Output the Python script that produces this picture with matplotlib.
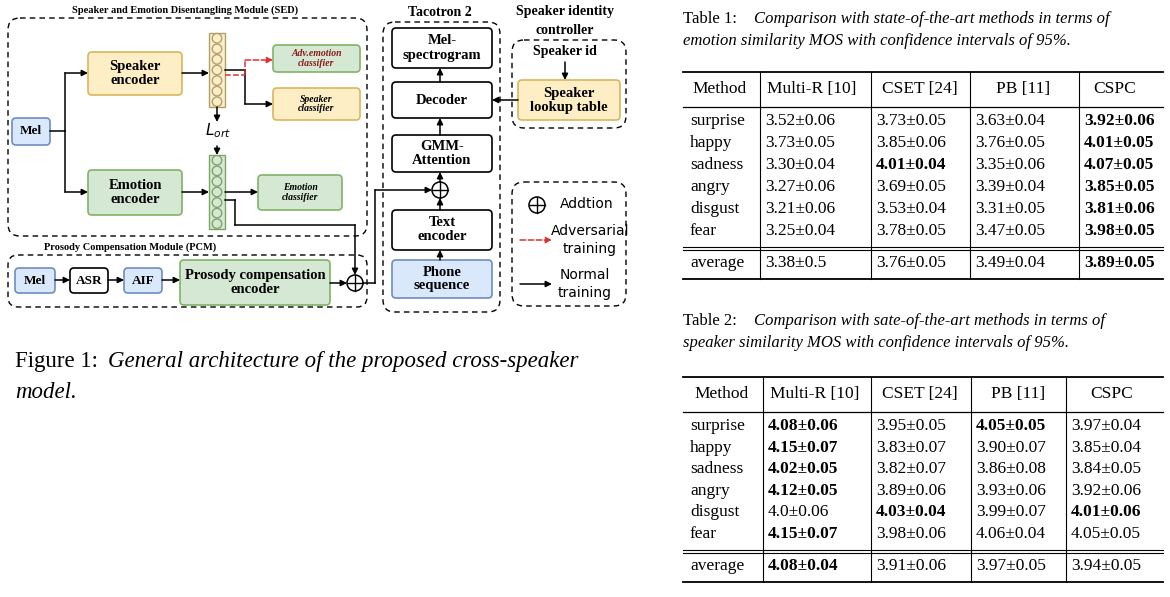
import matplotlib.pyplot as plt
from matplotlib.patches import FancyBboxPatch, Rectangle, Circle

# table data
methods = ["surprise", "happy", "sadness", "angry", "disgust", "fear"]
headers = ["Method", "Multi-R [10]", "CSET [24]", "PB [11]", "CSPC"]

t1_values = [
    ["3.52±0.06", "3.73±0.05", "3.63±0.04", "3.92±0.06"],
    ["3.73±0.05", "3.85±0.06", "3.76±0.05", "4.01±0.05"],
    ["3.30±0.04", "4.01±0.04", "3.35±0.06", "4.07±0.05"],
    ["3.27±0.06", "3.69±0.05", "3.39±0.04", "3.85±0.05"],
    ["3.21±0.06", "3.53±0.04", "3.31±0.05", "3.81±0.06"],
    ["3.25±0.04", "3.78±0.05", "3.47±0.05", "3.98±0.05"],
]
t1_avg = ["3.38±0.5", "3.76±0.05", "3.49±0.04", "3.89±0.05"]
t1_bold = {(0, 3), (1, 3), (2, 1), (2, 3), (3, 3), (4, 3), (5, 3), (6, 3)}

t2_values = [
    ["4.08±0.06", "3.95±0.05", "4.05±0.05", "3.97±0.04"],
    ["4.15±0.07", "3.83±0.07", "3.90±0.07", "3.85±0.04"],
    ["4.02±0.05", "3.82±0.07", "3.86±0.08", "3.84±0.05"],
    ["4.12±0.05", "3.89±0.06", "3.93±0.06", "3.92±0.06"],
    ["4.0±0.06", "4.03±0.04", "3.99±0.07", "4.01±0.06"],
    ["4.15±0.07", "3.98±0.06", "4.06±0.04", "4.05±0.05"],
]
t2_avg = ["4.08±0.04", "3.91±0.06", "3.97±0.05", "3.94±0.05"]
t2_bold = {(0, 0), (0, 2), (1, 0), (2, 0), (3, 0), (4, 1), (4, 3), (5, 0), (6, 0)}

SERIF = "Liberation Serif"
fig = plt.figure(figsize=(11.7, 5.97), dpi=100)
ax = fig.add_axes([0, 0, 1, 1])
ax.set_xlim(0, 1170)
ax.set_ylim(597, 0)
ax.axis("off")

YEL, YEL_E = "#fdeec6", "#d9b65a"
GRN, GRN_E = "#d5e8d4", "#82b366"
BLU, BLU_E = "#dae8fc", "#6c8ebf"


def box(x0, y0, x1, y1, text, fc="white", ec="black", size=9.5, style="normal", color="black", r=4):
    ax.add_patch(FancyBboxPatch((x0, y0), x1 - x0, y1 - y0, boxstyle=f"round,pad=0,rounding_size={r}",
                                fc=fc, ec=ec, lw=1.2))
    ax.text((x0 + x1) / 2, (y0 + y1) / 2, text, ha="center", va="center", fontsize=size,
            family=SERIF, weight="bold", style=style, color=color, linespacing=1.1)


def dashed(x0, y0, x1, y1, r=12):
    ax.add_patch(FancyBboxPatch((x0, y0), x1 - x0, y1 - y0, boxstyle=f"round,pad=0,rounding_size={r}",
                                fc="none", ec="black", lw=1.0, ls=(0, (4, 3))))


def arrow(pts, color="black", ls="-"):
    for i in range(len(pts) - 2):
        ax.plot([pts[i][0], pts[i + 1][0]], [pts[i][1], pts[i + 1][1]], color=color, lw=1.1, ls=ls)
    ax.annotate("", xy=pts[-1], xytext=pts[-2],
                arrowprops=dict(arrowstyle="-|>", color=color, lw=1.1, ls=ls, mutation_scale=9,
                                shrinkA=0, shrinkB=0))


def plus(x, y, r=8):
    ax.add_patch(Circle((x, y), r, fc="white", ec="black", lw=1.1))
    ax.plot([x - r, x + r], [y, y], color="black", lw=1)
    ax.plot([x, x], [y - r, y + r], color="black", lw=1)


def column(x, y0, y1, fc, ec):
    ax.add_patch(Rectangle((x - 8, y0), 16, y1 - y0, fc=fc, ec=ec, lw=1))
    n = 7
    step = (y1 - y0) / n
    for i in range(n):
        ax.add_patch(Circle((x, y0 + step * (i + 0.5)), step * 0.45, fc=fc, ec=ec, lw=1))


# SED module
ax.text(185, 10, "Speaker and Emotion Disentangling Module (SED)", ha="center", va="center",
        fontsize=7.5, family=SERIF, weight="bold")
dashed(8, 18, 367, 236)
box(12, 118, 50, 145, "Mel", BLU, BLU_E)
box(88, 52, 182, 95, "Speaker\nencoder", YEL, YEL_E, 10.5)
box(88, 170, 182, 215, "Emotion\nencoder", GRN, GRN_E, 10.5)
column(217, 33, 107, "#fdeec6", "#b0a070")
column(217, 155, 229, "#d5e8d4", "#82a366")
ax.text(218, 131, r"$\boldsymbol{L_{ort}}$", ha="center", va="center", fontsize=11)
box(273, 45, 360, 72, "Adv.emotion\nclassifier", GRN, GRN_E, 7, "italic", "#8b1a1a")
box(273, 88, 360, 120, "Speaker\nclassifier", YEL, YEL_E, 7, "italic")
box(258, 175, 342, 210, "Emotion\nclassifier", GRN, GRN_E, 7, "italic")
arrow([(50, 131), (65, 131), (65, 73), (88, 73)])
arrow([(65, 131), (65, 192), (88, 192)])
arrow([(182, 73), (209, 73)])
arrow([(182, 192), (209, 192)])
arrow([(225, 70), (245, 70), (245, 104), (273, 104)])
arrow([(225, 75), (245, 75), (245, 60), (273, 60)], color="#e03030", ls="--")
arrow([(225, 192), (258, 192)])
arrow([(217, 107), (217, 122)])
arrow([(217, 146), (217, 155)])
arrow([(225, 200), (235, 200), (235, 225), (355, 225), (355, 275)])

# PCM module
ax.text(130, 247, "Prosody Compensation Module (PCM)", ha="center", va="center",
        fontsize=7.5, family=SERIF, weight="bold")
dashed(8, 255, 367, 307, r=10)
box(15, 268, 55, 293, "Mel", BLU, BLU_E)
box(70, 268, 108, 293, "ASR")
box(124, 268, 162, 293, "AIF", BLU, BLU_E)
box(180, 260, 330, 305, "Prosody compensation\nencoder", GRN, GRN_E, 10.5)
arrow([(55, 280), (70, 280)])
arrow([(108, 280), (124, 280)])
arrow([(162, 280), (180, 280)])
arrow([(330, 283), (347, 283)])
plus(355, 283)
arrow([(363, 283), (375, 283), (375, 190), (432, 190)])

# Tacotron 2
ax.text(440, 12, "Tacotron 2", ha="center", va="center", fontsize=10, family=SERIF, weight="bold")
dashed(383, 22, 500, 312)
box(392, 28, 492, 68, "Mel-\nspectrogram", size=10.5)
box(392, 82, 492, 118, "Decoder", size=10.5)
box(392, 135, 492, 172, "GMM-\nAttention", size=10.5)
plus(440, 190)
box(392, 210, 492, 250, "Text\nencoder", size=10.5)
box(392, 260, 492, 298, "Phone\nsequence", BLU, BLU_E, 10.5)
arrow([(440, 260), (440, 250)])
arrow([(440, 210), (440, 198)])
arrow([(440, 182), (440, 172)])
arrow([(440, 135), (440, 118)])
arrow([(440, 82), (440, 68)])

# speaker identity controller
ax.text(565, 12, "Speaker identity", ha="center", va="center", fontsize=10, family=SERIF, weight="bold")
ax.text(565, 31, "controller", ha="center", va="center", fontsize=10, family=SERIF, weight="bold")
dashed(512, 40, 626, 128)
ax.text(565, 52, "Speaker id", ha="center", va="center", fontsize=10, family=SERIF, weight="bold")
arrow([(565, 62), (565, 80)])
box(518, 80, 620, 120, "Speaker\nlookup table", YEL, YEL_E, 10.5)
arrow([(518, 100), (492, 100)])

# legend
dashed(512, 182, 626, 306)
plus(537, 205)
ax.text(560, 204, "Addtion", ha="left", va="center", fontsize=10, family="DejaVu Sans")
arrow([(520, 240), (552, 240)], color="#e03030", ls="--")
ax.text(590, 240, "Adversarial\ntraining", ha="center", va="center", fontsize=10,
        family="DejaVu Sans", linespacing=1.3)
arrow([(520, 284), (552, 284)])
ax.text(585, 284, "Normal\ntraining", ha="center", va="center", fontsize=10,
        family="DejaVu Sans", linespacing=1.3)

# figure caption
ax.text(15, 362, "Figure 1:  ", ha="left", va="center", fontsize=16.5, family=SERIF)
ax.text(108, 362, "General architecture of the proposed cross-speaker", ha="left", va="center",
        fontsize=16.5, family=SERIF, style="italic")
ax.text(15, 392, "model.", ha="left", va="center", fontsize=16.5, family=SERIF, style="italic")


def table(cap1, cap2, ycap, ytop, values, avg, bold, vlines, cols, row_step):
    ax.text(683, ycap, "Table " + cap1[0] + ":  ", ha="left", va="center", fontsize=12, family=SERIF)
    ax.text(754, ycap, cap1[1], ha="left", va="center", fontsize=12, family=SERIF, style="italic")
    ax.text(683, ycap + 22, cap2, ha="left", va="center", fontsize=12, family=SERIF, style="italic")
    x0, x1 = 683, 1163
    yh = ytop + 17
    yl = ytop + 35
    rows_y = [yl + 14 + row_step * i for i in range(len(values))]
    yl2 = rows_y[-1] + 17
    ya = yl2 + 15
    yb = ya + 16
    ax.plot([x0, x1], [ytop, ytop], color="black", lw=1.3)
    ax.plot([x0, x1], [yl, yl], color="black", lw=0.9)
    ax.plot([x0, x1], [yl2 - 1.5, yl2 - 1.5], color="black", lw=0.8)
    ax.plot([x0, x1], [yl2 + 1.5, yl2 + 1.5], color="black", lw=0.8)
    ax.plot([x0, x1], [yb, yb], color="black", lw=1.3)
    for v in vlines:
        ax.plot([v, v], [ytop, yb], color="black", lw=0.8)
    for j, h in enumerate(headers):
        ax.text(cols[j], yh, h, ha="center", va="center", fontsize=12.5, family=SERIF)
    for i, (m, row) in enumerate(zip(methods + ["average"], values + [avg])):
        y = rows_y[i] if i < len(values) else ya
        ax.text(690, y, m, ha="left", va="center", fontsize=12.5, family=SERIF)
        for j, v in enumerate(row):
            ax.text(vlines[j] + 5, y, v, ha="left", va="center", fontsize=12.5, family=SERIF,
                    weight="bold" if (i, j) in bold else "normal")


table(("1", "Comparison with state-of-the-art methods in terms of"),
      "emotion similarity MOS with confidence intervals of 95%.", 19, 72,
      t1_values, t1_avg, t1_bold, [760, 871, 970, 1079], [720, 812, 920, 1023, 1115], 22)
table(("2", "Comparison with sate-of-the-art methods in terms of"),
      "speaker similarity MOS with confidence intervals of 95%.", 321, 377,
      t2_values, t2_avg, t2_bold, [763, 871, 971, 1066], [722, 815, 920, 1018, 1112], 21.6)

fig.savefig("out.png", dpi=100)
